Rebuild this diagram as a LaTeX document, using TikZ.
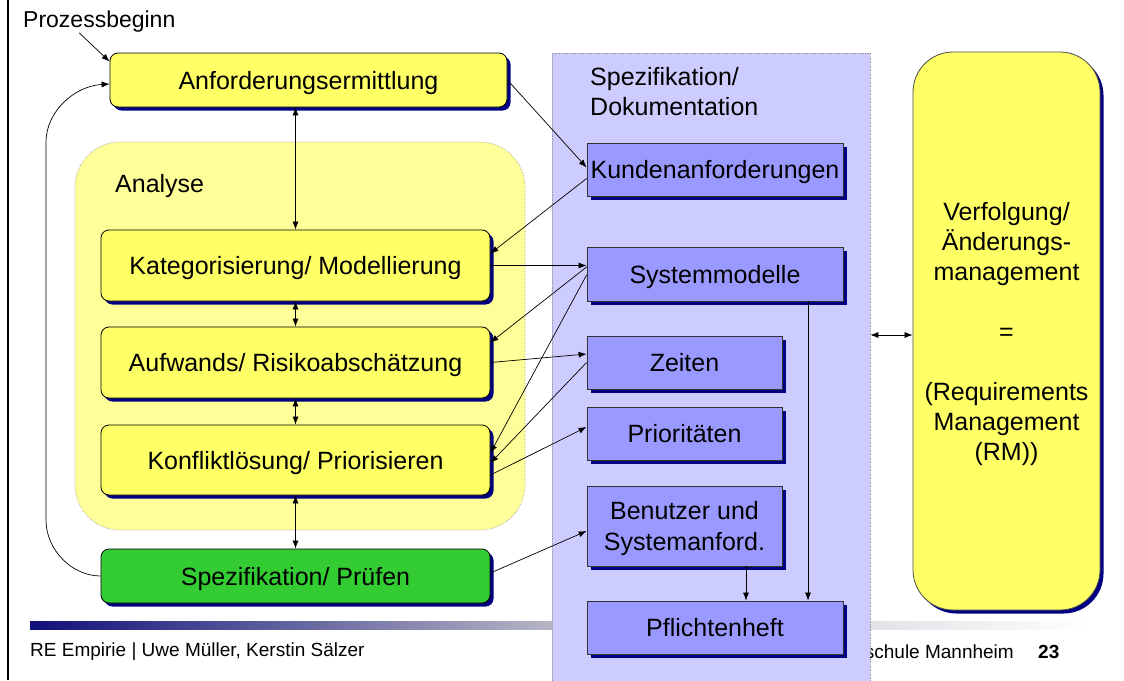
\documentclass[tikz,border=0pt]{standalone}
\usepackage{fontspec}
\setmainfont{Liberation Sans}
\usetikzlibrary{arrows.meta,shadows,calc}
\definecolor{yboxc}{HTML}{FFFF66}
\definecolor{ylight}{HTML}{FFFF99}
\definecolor{gboxc}{HTML}{33CC33}
\definecolor{bboxc}{HTML}{9999FF}
\definecolor{specc}{HTML}{CCCCFF}
\definecolor{shadowc}{HTML}{000080}
\definecolor{barnavy}{HTML}{10107A}
\definecolor{bargrey}{HTML}{B8B8C6}
\newcommand\bigtxt{\fontsize{25}{30}\selectfont}
\newcommand\midtxt{\fontsize{23}{27}\selectfont}
\newcommand\foottxt{\fontsize{19}{22}\selectfont}
\begin{document}
\begin{tikzpicture}[x=1pt,y=-1pt,
  shd/.style={drop shadow={shadow xshift=3.5pt,shadow yshift=-3.5pt,fill=shadowc,opacity=1}},
  yellowbox/.style={draw=black,line width=0.8pt,fill=yboxc,rounded corners=8pt,minimum width=389pt,minimum height=71pt,inner sep=0pt,text depth=0pt,font=\bigtxt,shd},
  bluebox/.style={draw=black!80,line width=0.8pt,fill=bboxc,minimum height=53pt,inner sep=0pt,text depth=0pt,font=\bigtxt,align=center,shd},
  arr/.style={-{Latex[length=8pt,width=6pt]},line width=0.7pt},
  darr/.style={{Latex[length=8pt,width=6pt]}-{Latex[length=8pt,width=6pt]},line width=0.7pt},
  txt/.style={inner sep=0pt,font=\bigtxt}]
\useasboundingbox (0,0) rectangle (1124,680);
% left border
\draw[line width=1.2pt] (8,0) -- (8,680);
% footer
\shade[left color=barnavy,right color=bargrey] (30,621) rectangle (560,629);
\shade[left color=bargrey,right color=white] (560,621) rectangle (1090,629);
\node[anchor=west,inner sep=0pt,font=\foottxt] (ft) at (30,652) {RE Empirie | Uwe Müller, Kerstin Sälzer};
\node[anchor=east,inner sep=0pt,font=\foottxt] (fh) at (1014,652) {schule Mannheim};
\node[anchor=west,inner sep=0pt,font=\foottxt\bfseries] (pg) at (1038,652) {23};
% regions
\node[draw=gray!80,densely dotted,line width=0.6pt,fill=ylight,rounded corners=45pt,minimum width=450pt,minimum height=388pt] (an) at (300,336) {};
\node[txt,anchor=west] (anl) at (115,186) {Analyse};
\node[draw=gray!80,densely dotted,line width=0.6pt,fill=specc,minimum width=318pt,minimum height=628pt] (spec) at (711,367) {};
\node[txt,anchor=north west,align=left] (spt) at (590,67) {Spezifikation/\\Dokumentation};
% left column
\node[txt,anchor=west,font=\midtxt] (pb) at (23,22) {Prozessbeginn};
\node[yellowbox,minimum width=397pt,minimum height=54pt] (A) at (308.5,80) {Anforderungsermittlung};
\node[yellowbox] (K) at (295.5,265.5) {Kategorisierung/ Modellierung};
\node[yellowbox] (R) at (295.5,362.5) {Aufwands/ Risikoabschätzung};
\node[yellowbox,minimum height=70pt] (P) at (295.5,460) {Konfliktlösung/ Priorisieren};
\node[yellowbox,fill=gboxc,minimum height=54pt] (S) at (295.5,576) {Spezifikation/ Prüfen};
% blue boxes
\node[bluebox,minimum width=256pt] (KA) at (715,169.5) {Kundenanforderungen};
\node[bluebox,minimum width=256pt,minimum height=54pt] (SM) at (715,274) {Systemmodelle};
\node[bluebox,minimum width=195pt] (Z) at (684.5,362.5) {Zeiten};
\node[bluebox,minimum width=195pt] (PR) at (684.5,433.5) {Prioritäten};
\node[bluebox,minimum width=195pt,minimum height=80pt,font=\fontsize{25}{31}\selectfont] (B) at (684.5,526) {Benutzer und\\Systemanford.};
\node[bluebox,minimum width=256pt] (PF) at (715,627.5) {Pflichtenheft};
% right box
\node[draw=black!70,line width=0.8pt,fill=yboxc,rounded corners=40pt,minimum width=187pt,minimum height=558pt,inner sep=0pt,text depth=0pt,align=center,font=\bigtxt,shd] (V) at (1006.5,331)
  {Verfolgung/\\Änderungs-\\management\\[30pt]=\\[30pt](Requirements\\Management\\(RM))};
% connectors
\draw[arr] ([xshift=-20pt]pb.south) -- ($(A.north west)+(0,9)$);
\coordinate (lb) at (46,520);
\coordinate (lt) at (46,142);
\draw[arr] (S.west) .. controls (72,576) and (46,550) .. (lb) -- (lt) .. controls (46,112) and (74,86) .. ($(A.west)+(0,4)$);
\draw[darr] (A.south -| K.north) -- (K.north);
\draw[darr] (K.south) -- (R.north);
\draw[darr] (R.south) -- (P.north);
\draw[darr] (P.south) -- (S.north);
\draw[arr] (A.east) -- ($(KA.west)+(0,-2)$);
\draw[arr] ($(KA.west)+(0,9)$) -- ($(K.east)+(0,-12)$);
\draw[arr] (K.east) -- (K.east -| SM.west);
\draw[arr] ($(SM.west)+(0,-7)$) -- ($(R.east)+(0,-20)$);
\draw[arr] ($(SM.west)+(0,1)$) -- ($(P.east)+(0,-7)$);
\draw[arr] (R.east) -- ($(Z.west)+(0,-8.5)$);
\draw[arr] (Z.west) -- ($(P.east)+(0,3)$);
\draw[arr] ($(P.east)+(0,15)$) -- ($(PR.west)+(0,-6.5)$);
\draw[arr] ($(S.east)+(0,-3)$) -- ($(B.west)+(0,5)$);
\coordinate (bb) at ($(B.south)+(61.5,0)$);
\draw[arr] (bb) -- (bb |- PF.north);
\coordinate (smb) at ($(SM.south)+(93,0)$);
\draw[arr] (smb) -- (smb |- PF.north);
\coordinate (vw) at ($(V.west)+(0,4)$);
\draw[darr] (vw) -- (vw -| spec.east);
\end{tikzpicture}
\end{document}
